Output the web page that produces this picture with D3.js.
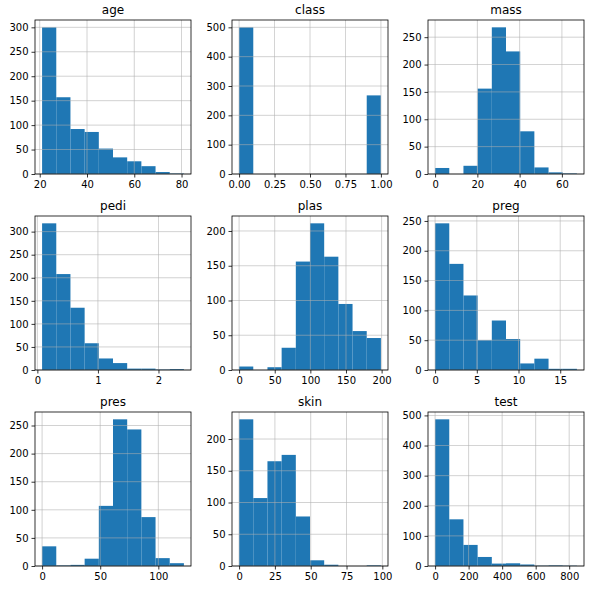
<!DOCTYPE html><html><head><meta charset="utf-8"><script src="https://cdn.jsdelivr.net/npm/d3@7"></script>
<style>body{margin:0;background:#fff}text{font-family:"DejaVu Sans",sans-serif}</style></head><body><svg id="c" width="601" height="590"></svg><script>
const names=["age","class","mass","pedi","plas","preg","pres","skin","test"];
const ranges=[[21,81],[0,1],[0,67.1],[0.078,2.42],[0,199],[0,17],[0,122],[0,99],[0,846]];
const counts=[[300,157,92,86,52,34,26,16,4,1],[500,0,0,0,0,0,0,0,0,268],[11,0,15,156,268,224,78,12,3,1],[318,208,135,58,25,15,3,3,1,2],[5,0,4,32,156,211,163,95,56,46],[246,178,125,50,83,52,11,19,2,2],[35,1,2,13,107,261,243,87,14,5],[231,107,165,175,78,9,2,0,0,1],[487,155,70,30,8,9,5,1,2,1]];
const xticks=[[20,40,60,80],[0,0.25,0.5,0.75,1],[0,20,40,60],[0,1,2],[0,50,100,150,200],[0,5,10,15],[0,50,100],[0,25,50,75,100],[0,200,400,600,800]];
const yticks=[[0,50,100,150,200,250,300],[0,100,200,300,400,500],[0,50,100,150,200,250],[0,50,100,150,200,250,300],[0,50,100,150,200],[0,50,100,150,200,250],[0,50,100,150,200,250],[0,50,100,150,200],[0,100,200,300,400,500]];
const xfmt=[null,d3.format(".2f"),null,d3.format("d"),null,null,null,null,null];
const colX=[35,232,428],W=156,rowY=[20,216,412],H=154;
const svg=d3.select("#c");
names.forEach((n,i)=>{
 const x0=colX[i%3],y0=rowY[Math.floor(i/3)];
 const [lo,hi]=ranges[i],m=(hi-lo)*0.05,w=(hi-lo)/10;
 const x=d3.scaleLinear().domain([lo-m,hi+m]).range([0,W]);
 const y=d3.scaleLinear().domain([0,d3.max(counts[i])*1.05]).range([H,0]);
 const g=svg.append("g").attr("transform",`translate(${x0},${y0})`);
 g.selectAll("rect").data(counts[i]).join("rect").attr("x",(d,k)=>x(lo+k*w)).attr("width",(d,k)=>x(lo+(k+1)*w)-x(lo+k*w)).attr("y",d=>y(d)).attr("height",d=>H-y(d)).attr("fill","#1f77b4");
 g.selectAll(".gx").data(xticks[i]).join("line").attr("x1",d=>x(d)).attr("x2",d=>x(d)).attr("y1",0).attr("y2",H).attr("stroke","#b0b0b0").attr("stroke-width",0.8).attr("opacity",0.7);
 g.selectAll(".gy").data(yticks[i]).join("line").attr("y1",d=>y(d)).attr("y2",d=>y(d)).attr("x1",0).attr("x2",W).attr("stroke","#b0b0b0").attr("stroke-width",0.8).attr("opacity",0.7);
 const ax=d3.axisBottom(x).tickValues(xticks[i]).tickSize(3.5).tickPadding(3);if(xfmt[i])ax.tickFormat(xfmt[i]);
 const gx=g.append("g").attr("transform",`translate(0,${H})`).call(ax);
 const gy=g.append("g").call(d3.axisLeft(y).tickValues(yticks[i]).tickSize(3.5).tickPadding(3));
 [gx,gy].forEach(a=>{a.select(".domain").remove();a.selectAll("text").attr("font-size",10).attr("fill","#000").attr("font-family","DejaVu Sans");a.selectAll("line").attr("stroke","#000").attr("stroke-width",0.8);});
 g.append("rect").attr("width",W).attr("height",H).attr("fill","none").attr("stroke","#000").attr("stroke-width",0.8);
 g.append("text").attr("x",W/2).attr("y",-6).attr("text-anchor","middle").attr("font-size",12).text(n);
});
</script></body></html>
